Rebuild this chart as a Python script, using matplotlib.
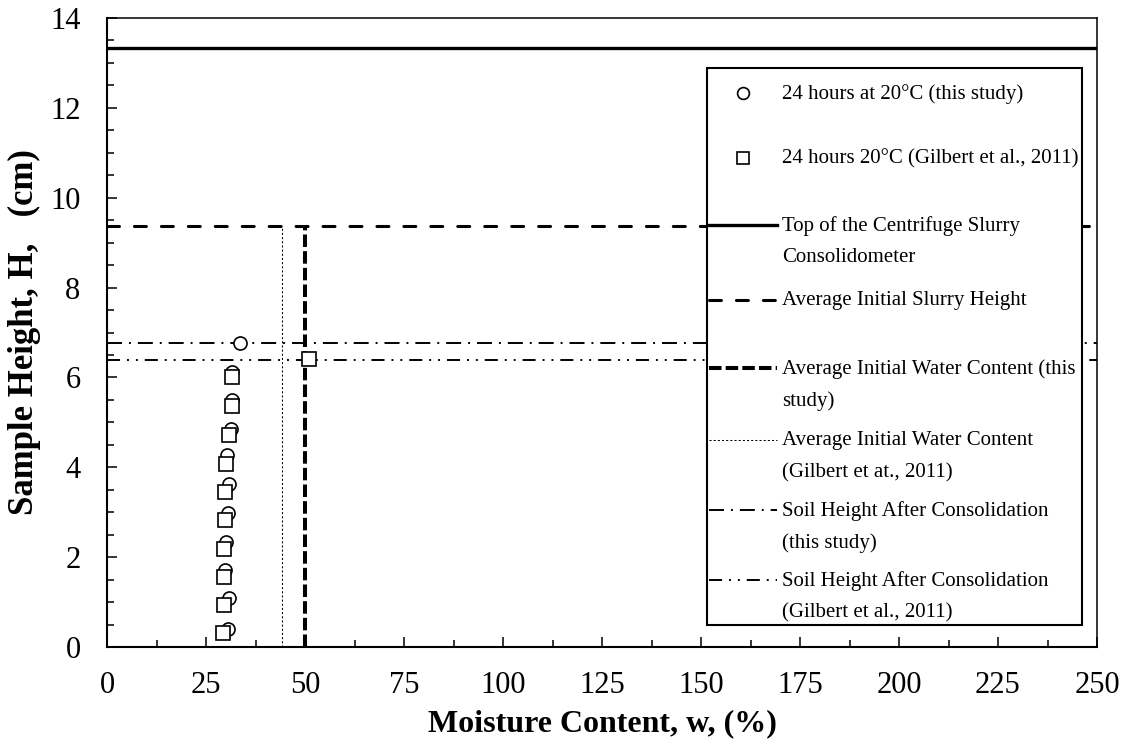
import matplotlib
matplotlib.use("Agg")
import matplotlib.pyplot as plt
from matplotlib.lines import Line2D
from matplotlib.patches import Rectangle
from matplotlib.transforms import Affine2D

# ---------------- data ----------------
w_this = [33.6, 31.6, 31.6, 31.2, 30.2, 30.9, 30.6, 30.1, 29.8, 30.9, 30.6]
h_this = [6.76, 6.12, 5.49, 4.86, 4.27, 3.62, 2.98, 2.34, 1.72, 1.10, 0.41]
w_gil = [50.9, 31.5, 31.5, 30.9, 30.0, 29.8, 29.9, 29.6, 29.6, 29.6, 29.2]
h_gil = [6.40, 6.00, 5.36, 4.71, 4.08, 3.45, 2.82, 2.19, 1.55, 0.93, 0.31]

top_height = 13.34          # top of centrifuge slurry consolidometer
slurry_height = 9.37        # average initial slurry height
w_init_this = 50.0          # average initial water content (this study)
w_init_gil = 44.2           # average initial water content (Gilbert)
soil_h_this = 6.76          # soil height after consolidation (this study)
soil_h_gil = 6.38           # soil height after consolidation (Gilbert)

x_ticks = [0, 25, 50, 75, 100, 125, 150, 175, 200, 225, 250]
y_ticks = [0, 2, 4, 6, 8, 10, 12, 14]

labels = [
    "24 hours at 20\u00b0C (this study)",
    "24 hours 20\u00b0C (Gilbert et al., 2011)",
    "Top of the Centrifuge Slurry\nConsolidometer",
    "Average Initial Slurry Height",
    "Average Initial Water Content (this\nstudy)",
    "Average Initial Water Content\n(Gilbert et at., 2011)",
    "Soil Height After Consolidation\n(this study)",
    "Soil Height After Consolidation\n(Gilbert et al., 2011)",
]

# ---------------- styling ----------------
plt.rcParams["font.family"] = ["Liberation Serif", "DejaVu Serif"]
plt.rcParams["lines.scale_dashes"] = False

W, H = 1126, 744
fig = plt.figure(figsize=(W / 100, H / 100), dpi=100)
ax = fig.add_axes([107 / W, 1 - 647 / H, 990 / W, 629 / H])

st_top = dict(color="black", lw=2.4, linestyle="-")
st_slurry = dict(color="black", lw=2.2, linestyle=(0, (8.6, 10.8)), dash_capstyle="round")
st_winit = dict(color="black", lw=2.9, linestyle=(0, (9.0, 3.0)))
st_wgil = dict(color="black", lw=0.75, linestyle=(0, (1.5, 1.5)))
st_soil_this = dict(color="black", lw=1.4, linestyle=(0, (10.8, 5.0, 1.4, 5.0)))
st_soil_gil = dict(color="black", lw=1.4, linestyle=(0, (9.4, 5.0, 1.4, 5.0, 1.4, 5.0)))
mk_this = dict(marker="o", mfc="white", mec="black", mew=1.2, linestyle="none")
mk_gil = dict(marker="s", mfc="white", mec="black", mew=1.2, linestyle="none")

ax.axhline(top_height, **st_top, zorder=2)
ax.axhline(slurry_height, **st_slurry, zorder=2)
ax.vlines(w_init_this, 0, slurry_height, **st_winit, zorder=2)
ax.vlines(w_init_gil, 0, slurry_height, **st_wgil, zorder=2)
ax.axhline(soil_h_this, **st_soil_this, zorder=2)
ax.axhline(soil_h_gil, **st_soil_gil, zorder=2)
ax.plot(w_this, h_this, ms=9.4, **mk_this, zorder=3)
ax.plot(w_gil, h_gil, ms=10, **mk_gil, zorder=4)

ax.set_xlim(0, 250)
ax.set_ylim(0, 14)
ax.set_xticks(x_ticks)
ax.set_yticks(y_ticks)
ax.set_xticks([v + 12.5 for v in x_ticks[:-1]], minor=True)
ax.set_yticks([v * 0.5 for v in range(29)], minor=True)
ax.tick_params(axis="both", which="major", direction="in", length=7, width=1.1,
               labelsize=22, top=False, right=False)
ax.tick_params(axis="both", which="minor", direction="in", length=5, width=1.1,
               top=False, right=False)
ax.tick_params(axis="x", which="major", pad=17)
ax.tick_params(axis="y", which="major", pad=19)
for s in ["left", "bottom"]:
    ax.spines[s].set_linewidth(1.5)
for s in ["top", "right"]:
    ax.spines[s].set_linewidth(1.1)

ax.set_xlabel("Moisture Content, w, (%)", fontsize=23, fontweight="bold")
ax.set_ylabel("Sample Height, H,   (cm)", fontsize=25, fontweight="bold")
ax.xaxis.set_label_coords(0.5, -(709 - 647) / 629)
ax.yaxis.set_label_coords((41 - 107) / 990, 0.5)

# ---------------- legend (drawn manually, pixel layout) ----------------
T = Affine2D().scale(1 / W, -1 / H).translate(0, 1) + fig.transFigure
fig.add_artist(Rectangle((707, 68), 375, 557, transform=T, facecolor="white",
                         edgecolor="black", lw=1.5, zorder=5))
entry_y = [93, 158, 225, 300, 368, 440, 510, 580]
handles = [("m", mk_this, 8.5), ("m", mk_gil, 9), ("l", st_top, None), ("l", st_slurry, None),
           ("l", st_winit, None), ("l", st_wgil, None), ("l", st_soil_this, None),
           ("l", st_soil_gil, None)]
for (kind, style, ms), lab, y in zip(handles, labels, entry_y):
    if kind == "m":
        fig.add_artist(Line2D([743], [y], ms=ms, transform=T, zorder=6, **style))
    else:
        fig.add_artist(Line2D([709, 777], [y, y], transform=T, zorder=6, **style))
    for i, line in enumerate(lab.split("\n")):
        fig.text(782 / W, 1 - (y + 1 + i * 32) / H, line, fontsize=15,
                 ha="left", va="center", zorder=7)

fig.savefig("out.png", dpi=100)
